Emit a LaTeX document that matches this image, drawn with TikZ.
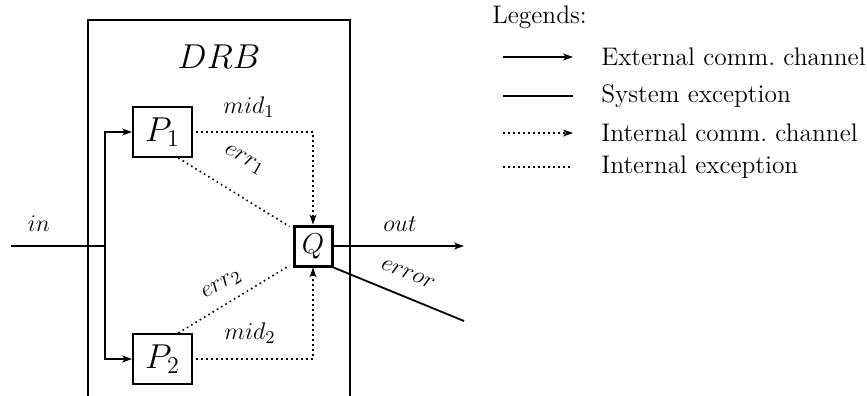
\documentclass[tikz,border=0pt]{standalone}
\usetikzlibrary{arrows.meta,calc}
\begin{document}
\begin{tikzpicture}[x=0.5pt,y=-0.5pt,
  every node/.style={font=\fontsize{12.7}{15}\selectfont},
  pbox/.style={draw,line width=1pt,minimum width=29.5pt,minimum height=25pt,inner sep=0pt,font=\fontsize{18}{20}\selectfont},
  qbox/.style={draw,line width=1.5pt,minimum width=19pt,minimum height=20pt,inner sep=0pt,font=\fontsize{14}{16}\selectfont},
  ext/.style={line width=0.9pt},
  int/.style={line width=0.8pt,dash pattern=on 0.8pt off 1.7pt},
  arr/.style={-{Stealth[length=5pt,width=3.5pt,inset=1.5pt]}},
  lbl/.style={inner sep=1pt}]
\clip (0,0) rectangle (867,396);
\useasboundingbox (0,0) rectangle (867,396);
% DRB box
\draw[line width=1pt] (88,410) -- (88,20) -- (350,20) -- (350,410);
\node (drb) at (219,57) {\fontsize{19}{22}\selectfont $DRB$};
% process nodes
\node[pbox] (P1) at (162.5,132) {$P_1$};
\node[pbox] (P2) at (162.5,359) {$P_2$};
\node[qbox] (Q) at (313,246) {$Q$};
% input
\coordinate (in) at (11,246);
\coordinate (j) at (105,246);
\draw[ext] (in) -- (j);
\draw[ext,arr] (j) |- (P1.west);
\draw[ext,arr] (j) |- (P2.west);
\node[lbl] (inl) at (39,224) {$in$};
% internal channels
\draw[int,arr] ([xshift=1.5pt]P1.east) -| (Q.north);
\draw[int,arr] ([xshift=1.5pt]P2.east) -| (Q.south);
\node[lbl] (m1) at (249,107) {$mid_1$};
\node[lbl] (m2) at (250,333) {$mid_2$};
% internal exceptions
\draw[int] ($(P1.south west)!0.76!(P1.south east)$) -- ([shift={(-1.5pt,-1pt)}]Q.north west);
\draw[int] ($(P2.north west)!0.76!(P2.north east)$) -- ([shift={(-1.5pt,1pt)}]Q.south west);
\node[lbl,rotate=-30] (e1) at (244,160) {$err_1$};
\node[lbl,rotate=30] (e2) at (222,285) {$err_2$};
% outputs
\coordinate (outend) at (464,246);
\coordinate (errend) at (464,321);
\draw[ext,arr] (Q.east) -- (outend);
\draw[ext] (Q.south east) -- (errend);
\node[lbl] (outl) at (400,224) {$out$};
\node[lbl,rotate=-22] (errl) at (408,274) {$error$};
% legend
\node[anchor=west,lbl] (leg) at (490,17) {Legends:};
\coordinate (l1a) at (503,57); \coordinate (l1b) at (573,57);
\coordinate (l2a) at (503,96); \coordinate (l2b) at (573,96);
\coordinate (l3a) at (503,133); \coordinate (l3b) at (573,133);
\coordinate (l4a) at (503,167); \coordinate (l4b) at (573,167);
\draw[ext,arr] (l1a) -- (l1b);
\draw[ext] (l2a) -- (l2b);
\draw[int,arr] (l3a) -- (l3b);
\draw[int] (l4a) -- (l4b);
\node[anchor=west,lbl] (t1) at (599,57) {External comm.\ channel};
\node[anchor=west,lbl] (t2) at (599,96) {System exception};
\node[anchor=west,lbl] (t3) at (599,133) {Internal comm.\ channel};
\node[anchor=west,lbl] (t4) at (599,167) {Internal exception};
\end{tikzpicture}
\end{document}
